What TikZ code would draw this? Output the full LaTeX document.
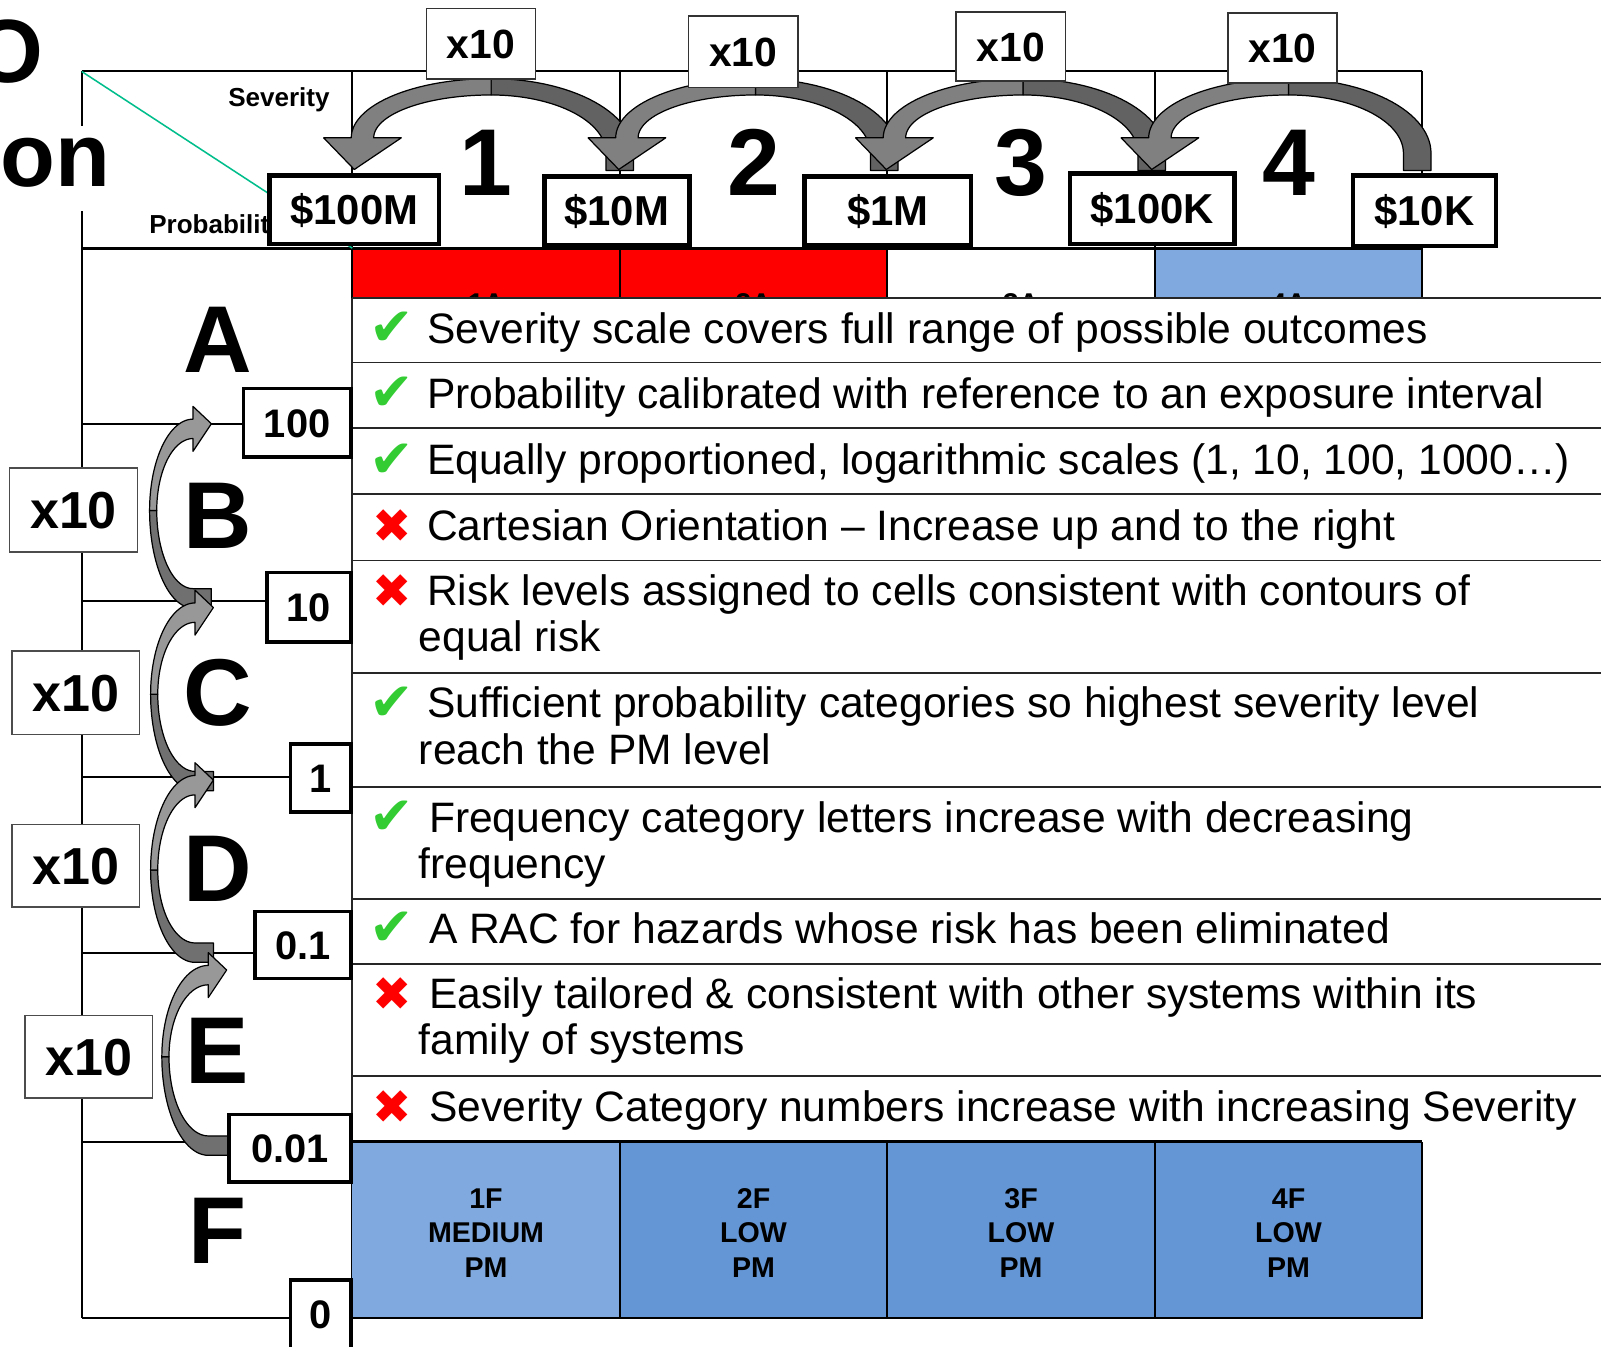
\documentclass[tikz,border=0pt]{standalone}
\usepackage{fontspec}
\setmainfont{Liberation Sans}
\newfontfamily\symfont{DejaVu Sans}
\newcommand\fsz[1]{\fontsize{#1}{#1}\selectfont}
\definecolor{gline}{RGB}{0,190,140}
\definecolor{lblue}{RGB}{128,170,223}
\definecolor{mblue}{RGB}{100,150,214}
\definecolor{chk}{RGB}{51,204,51}
\definecolor{tlight}{RGB}{128,128,128}
\definecolor{tdark}{RGB}{98,98,98}
\definecolor{slight}{RGB}{152,152,152}
\definecolor{sdark}{RGB}{112,112,112}
\tikzset{
 title/.style={font=\bfseries\fsz{88}, inner sep=0pt},
 bigl/.style={font=\bfseries\fsz{93}, inner sep=0pt, anchor=base},
 hdr/.style={font=\bfseries\fsz{25.5}, inner sep=0pt},
 cell/.style={font=\bfseries\fsz{28}, inner sep=0pt, anchor=base},
 valbox/.style={draw=black, line width=4.5pt, fill=white, inner sep=0pt, font=\bfseries\fsz{41}, text height=29.5pt, text depth=0pt},
 pbox/.style={draw=black, line width=3.5pt, fill=white, inner sep=0pt, font=\bfseries\fsz{39}, text height=28pt, text depth=0pt},
 tbox/.style={draw=black!80, line width=1.5pt, fill=white, inner sep=0pt, font=\bfseries\fsz{40}, text height=28.5pt, text depth=0pt, minimum width=107pt},
 lbox/.style={draw=black!70, line width=1.5pt, fill=white, inner sep=0pt, font=\bfseries\fsz{51}, text height=36.5pt, text depth=0pt, minimum width=125pt},
 item/.style={anchor=base west, inner sep=0pt, font=\fsz{41.7}},
 okm/.style={text=chk, font=\symfont\fsz{52}, inner sep=0pt},
 nom/.style={text=red, font=\symfont\fsz{46}, inner sep=0pt},
 sep/.style={line width=1.6pt, black!85},
 gridline/.style={line width=2pt, black},
 arrowline/.style={draw=black, line width=1.2pt, line join=round},
}
\newcommand\toparrow[1]{%
 \pgfmathsetmacro\xl{#1-126}%
 \filldraw[arrowline, fill=tdark] plot[domain=90:0, samples=30, variable=\t] ({#1+139.5*cos(\t)},{150-73*sin(\t)}) -- ({#1+139.5},167) -- ({#1+112.5},167) -- plot[domain=0:90, samples=30, variable=\t] ({#1+112.5*cos(\t)},{150-57*sin(\t)}) -- cycle;
 \filldraw[arrowline, fill=tlight] plot[domain=90:180, samples=30, variable=\t] ({#1+137*cos(\t)},{135-58*sin(\t)}) -- ({\xl-38},135) -- ({\xl-8},166) -- ({\xl+38},135) -- ({\xl+11},135) -- plot[domain=180:90, samples=30, variable=\t] ({#1+115*cos(\t)},{135-42*sin(\t)}) -- cycle;
}
% #1 cx, #2 cy, #3 rx, #4 ryL, #5 ryD, #6 tail x
\newcommand\sidearrow[6]{%
 \filldraw[arrowline, fill=sdark] plot[domain=180:270, samples=30, variable=\t] ({#1+(#3+3.5)*cos(\t)},{#2-(#5+9.5)*sin(\t)}) -- (#6,{#2+#5+9.5}) -- (#6,{#2+#5-9.5}) -- (#1,{#2+#5-9.5}) -- plot[domain=270:180, samples=30, variable=\t] ({#1+(#3-3.5)*cos(\t)},{#2-(#5-9.5)*sin(\t)}) -- cycle;
 \filldraw[arrowline, fill=slight] plot[domain=180:90, samples=30, variable=\t] ({#1+(#3+3.5)*cos(\t)},{#2-(#4+9.5)*sin(\t)}) -- (#1,{#2-#4-22}) -- ({#1+18},{#2-#4-5}) -- (#1,{#2-#4+22}) -- (#1,{#2-#4+9.5}) -- plot[domain=90:180, samples=30, variable=\t] ({#1+(#3-3.5)*cos(\t)},{#2-(#4-9.5)*sin(\t)}) -- cycle;
}
\begin{document}
\begin{tikzpicture}[x=1pt,y=-1pt]
\useasboundingbox (0,0) rectangle (1568,1319);
\clip (0,0) rectangle (1568,1319);
\fill[white] (0,0) rectangle (1568,1319);
% title fragment
\node[title, anchor=base east] (ttlO) at (43,81) {O};
% cell fills
\fill[red] (345,243) rectangle (869,292);
\fill[lblue] (1131,243) rectangle (1393,292);
% A row labels (mostly hidden by the list panel)
\begin{scope}
\clip (345,243) rectangle (1393,292);
\node[cell] (c1A) at (476,307) {1A};
\node[cell] (c2A) at (738,307) {2A};
\node[cell] (c3A) at (1000,307) {3A};
\node[cell] (c4A) at (1262,307) {4A};
\end{scope}
% grid lines
\draw[gridline] (80,70) -- (1393,70);
\foreach \x in {607,869,1131,1393} \draw[gridline] (\x,70) -- (\x,292);
\draw[gridline] (345,70) -- (345,1291);
\draw[gridline] (80,70) -- (80,1291);
\draw[line width=3pt] (80,243) -- (1393,243);
\foreach \y in {415,589,761,933,1118} \draw[gridline] (80,\y) -- (345,\y);
\draw[gridline] (80,1291) -- (1393,1291);
% diagonal
\draw[gline, line width=1.5pt] (80,70) -- (345,243);
% header labels
\node[hdr, anchor=base east] (sev) at (323,104) {Severity};
\node[hdr, anchor=base west] (prob) at (146,229) {Probability};
% big letters and numbers
\node[bigl] (LA) at (213,365) {A};
\node[bigl] (LB) at (213,537) {B};
\node[bigl] (LC) at (213,711) {C};
\node[bigl] (LD) at (213,883) {D};
\node[bigl] (LE) at (213,1061) {E};
\node[bigl] (LF) at (213,1237) {F};
\node[bigl] (N1) at (476,191) {1};
\node[bigl] (N2) at (738,191) {2};
\node[bigl] (N3) at (1000,191) {3};
\node[bigl] (N4) at (1262,191) {4};
% arrows
\toparrow{481}
\toparrow{740}
\toparrow{1002}
\toparrow{1262}
\sidearrow{189}{500}{39}{80}{86}{207}
\sidearrow{191}{680}{40}{80}{85}{209}
\sidearrow{191}{852}{40}{83}{81}{209}
\sidearrow{204}{1035}{42}{80}{87}{223}
% x10 boxes top
\node[tbox, minimum height=69pt] (tx1) at (471,43) {x10};
\node[tbox, minimum height=70pt] (tx2) at (728,50.5) {x10};
\node[tbox, minimum height=68pt] (tx3) at (990,45.5) {x10};
\node[tbox, minimum height=69pt] (tx4) at (1256,47) {x10};
% x10 boxes left
\node[lbox, minimum height=82pt] (lx1) at (72,499.5) {x10};
\node[lbox, minimum height=82pt] (lx2) at (74,678.5) {x10};
\node[lbox, minimum height=81pt] (lx3) at (74,848) {x10};
\node[lbox, minimum height=81pt] (lx4) at (87,1035) {x10};
% value boxes top
\node[valbox, minimum width=166pt, minimum height=67pt] (v1) at (347,205.5) {\$100M};
\node[valbox, minimum width=142pt, minimum height=67pt] (v2) at (604,206.5) {\$10M};
\node[valbox, minimum width=163pt, minimum height=67pt] (v3) at (869.5,206.5) {\$1M};
\node[valbox, minimum width=161pt, minimum height=69pt] (v4) at (1128.5,204.5) {\$100K};
\node[valbox, minimum width=140pt, minimum height=69pt] (v5) at (1395,206.5) {\$10K};
% title fragment "on"
\fill[white] (0,123) rectangle (112,207);
\node[title, anchor=base east] (ttlon) at (108,183) {on};
% overlay list
\fill[white] (345,292) rectangle (1580,1118);
\draw[sep] (345,292) -- (345,1118);
\foreach \y in {292,355,419,484,549,659,771,880.5,944,1054} \draw[sep] (345,\y) -- (1580,\y);
\node[okm] (m1) at (384,322) {✔};
\node[item] (t1) at (418,336) {Severity scale covers full range of possible outcomes};
\node[okm] (m2) at (384,386) {✔};
\node[item] (t2) at (418,400) {Probability calibrated with reference to an exposure interval};
\node[okm] (m3) at (384,451) {✔};
\node[item] (t3) at (418,465) {Equally proportioned, logarithmic scales (1, 10, 100, 1000…)};
\node[nom] (m4) at (384,515) {✖};
\node[item] (t4) at (418,529) {Cartesian Orientation – Increase up and to the right};
\node[nom] (m5) at (384,579) {✖};
\node[item] (t5) at (418,593) {Risk levels assigned to cells consistent with contours of};
\node[item] (t5b) at (410,638) {equal risk};
\node[okm] (m6) at (384,689) {✔};
\node[item] (t6) at (418,703) {Sufficient probability categories so highest severity level};
\node[item] (t6b) at (410,749) {reach the PM level};
\node[okm] (m7) at (384,801) {✔};
\node[item] (t7) at (420,815) {Frequency category letters increase with decreasing};
\node[item] (t7b) at (410,860) {frequency};
\node[okm] (m8) at (384,910) {✔};
\node[item] (t8) at (420,924) {A RAC for hazards whose risk has been eliminated};
\node[nom] (m9) at (384,974) {✖};
\node[item] (t9) at (420,988) {Easily tailored \& consistent with other systems within its};
\node[item] (t9b) at (410,1033) {family of systems};
\node[nom] (m10) at (384,1084) {✖};
\node[item] (t10) at (420,1098) {Severity Category numbers increase with increasing Severity};
% F row
\fill[lblue] (345,1118) rectangle (607,1291);
\fill[mblue] (607,1118) rectangle (1393,1291);
\foreach \x in {607,869,1131} \draw[gridline] (\x,1118) -- (\x,1291);
\draw[gridline] (345,1291) -- (1393,1291) -- (1393,1118);
\draw[line width=3pt] (345,1118) -- (1393,1118);
\node[cell] (f1a) at (476,1184) {1F};
\node[cell] (f1b) at (476,1217) {MEDIUM};
\node[cell] (f1c) at (476,1251) {PM};
\node[cell] (f2a) at (738,1184) {2F};
\node[cell] (f2b) at (738,1217) {LOW};
\node[cell] (f2c) at (738,1251) {PM};
\node[cell] (f3a) at (1000,1184) {3F};
\node[cell] (f3b) at (1000,1217) {LOW};
\node[cell] (f3c) at (1000,1251) {PM};
\node[cell] (f4a) at (1262,1184) {4F};
\node[cell] (f4b) at (1262,1217) {LOW};
\node[cell] (f4c) at (1262,1251) {PM};
% probability value boxes
\node[pbox, minimum width=105pt, minimum height=67pt] (p1) at (291,414) {100};
\node[pbox, minimum width=82pt, minimum height=68pt] (p2) at (302.5,594.5) {10};
\node[pbox, minimum width=59pt, minimum height=67pt] (p3) at (314,762) {1};
\node[pbox, minimum width=94pt, minimum height=66pt] (p4) at (296.5,925.5) {0.1};
\node[pbox, minimum width=119pt, minimum height=66pt] (p5) at (284,1124.5) {0.01};
\node[pbox, minimum width=59pt, minimum height=67pt] (p6) at (314,1287) {0};
\end{tikzpicture}
\end{document}
